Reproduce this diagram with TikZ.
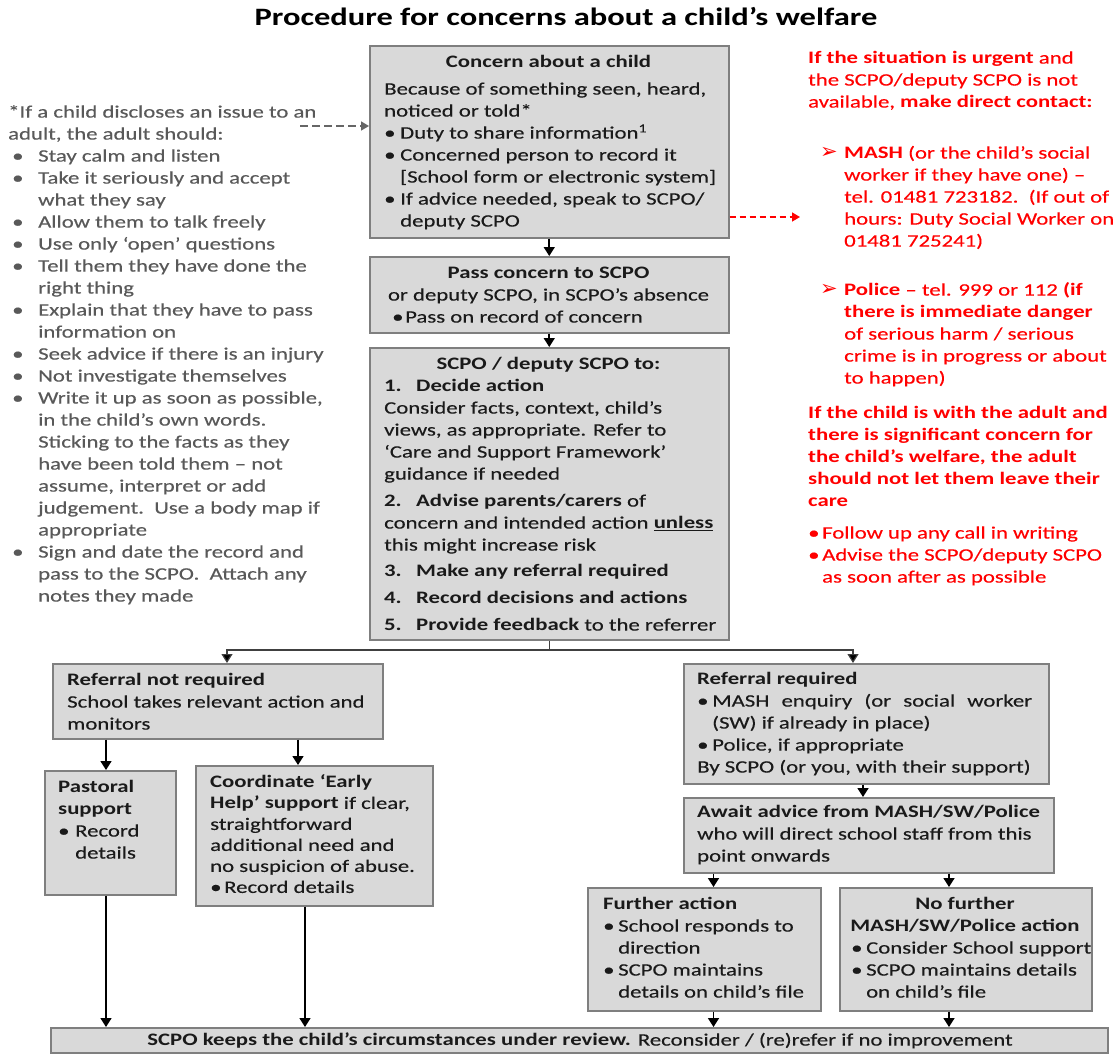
\documentclass[tikz,border=0pt]{standalone}
\usepackage{fontspec}
\setmainfont{Carlito}[FakeStretch=1.3, UprightFeatures={FakeBold=0.3}]
\newfontfamily\dejavu{DejaVu Sans}
\usetikzlibrary{arrows.meta}
\definecolor{boxfill}{HTML}{D9D9D9}
\definecolor{boxline}{HTML}{7F7F7F}
\definecolor{greytext}{HTML}{595959}
\definecolor{redtext}{HTML}{FF0000}
\definecolor{darktext}{HTML}{1A1A1A}
\newcommand\bodyfont{\fontsize{17.5pt}{22pt}\selectfont}
\newcommand\bul[1]{\makebox[#1][l]{\textbullet}}
\newcommand\nlab[1]{\makebox[32pt][l]{#1}}
\newcommand\lbul{\hspace*{4pt}\makebox[26pt][l]{\textbullet}}
\newcommand\lcon{\hspace*{30pt}}
\newcommand\arrowbul{\makebox[24pt][l]{\dejavu\fontsize{21pt}{22pt}\selectfont ➢}}
\begin{document}
\begin{tikzpicture}[x=1pt,y=-1pt,
  box/.style={draw=boxline, fill=boxfill, line width=1.5pt, anchor=north west, inner sep=0pt},
  txt/.style={anchor=north west, inner sep=0pt, align=left, font=\bodyfont, text=darktext},
  ctxt/.style={anchor=north, inner sep=0pt, align=center, font=\bodyfont, text=darktext},
  arr/.style={draw=black, line width=1.6pt, -{Triangle[length=9pt,width=11pt]}},
  brarr/.style={draw=black!75, line width=1.2pt, -{Triangle[length=9pt,width=11pt,fill=black]}},
  gdash/.style={draw=black!60, line width=1.6pt, dash pattern=on 8pt off 4pt, -{Triangle[length=8pt,width=9pt]}},
  rdash/.style={draw=redtext, line width=1.6pt, dash pattern=on 6pt off 4pt, -{Triangle[length=8pt,width=9pt]}},
]
\useasboundingbox (0,0) rectangle (1114,1055);
\fill[white] (0,0) rectangle (1114,1055);

% title
\node[anchor=north, inner sep=0pt, font=\fontsize{25pt}{28pt}\selectfont\bfseries, text=black] (title) at (566,6)
  {\strut Procedure for concerns about a child’s welfare};

% boxes
\node[box, minimum width=359pt, minimum height=192pt] (A) at (369,45) {};
\node[box, minimum width=359pt, minimum height=76pt] (B) at (369,256) {};
\node[box, minimum width=359pt, minimum height=292pt] (C) at (369,347) {};
\node[box, minimum width=330pt, minimum height=75pt] (RNR) at (52,663) {};
\node[box, minimum width=131pt, minimum height=124pt] (Past) at (44,770) {};
\node[box, minimum width=237pt, minimum height=140pt] (Coord) at (195,765) {};
\node[box, minimum width=365pt, minimum height=120pt] (RR) at (683,663) {};
\node[box, minimum width=370pt, minimum height=75pt] (Await) at (683,797) {};
\node[box, minimum width=233pt, minimum height=123pt] (Further) at (587,887) {};
\node[box, minimum width=252pt, minimum height=123pt] (NoFur) at (839,887) {};
\node[box, minimum width=1057pt, minimum height=25pt] (Bottom) at (50,1027) {};

% left grey text
\node[txt, text=greytext] (advice) at (8,102) {\strut *If a child discloses an issue to an\\
adult, the adult should:\\
\lbul Stay calm and listen\\
\lbul Take it seriously and accept\\
\lcon what they say\\
\lbul Allow them to talk freely\\
\lbul Use only ‘open’ questions\\
\lbul Tell them they have done the\\
\lcon right thing\\
\lbul Explain that they have to pass\\
\lcon information on\\
\lbul Seek advice if there is an injury\\
\lbul Not investigate themselves\\
\lbul Write it up as soon as possible,\\
\lcon in the child’s own words.\\
\lcon Sticking to the facts as they\\
\lcon have been told them – not\\
\lcon assume, interpret or add\\
\lcon judgement.\ \ Use a body map if\\
\lcon appropriate\\
\lbul Sign and date the record and\\
\lcon pass to the SCPO.\ \ Attach any\\
\lcon notes they made};

% red text
\node[txt, text=redtext] (urgent) at (808,48) {\strut\textbf{If the situation is urgent} and\\
the SCPO/deputy SCPO is not\\
available, \textbf{make direct contact:}};
\node[txt, text=redtext] (mash) at (820,143) {\strut\arrowbul\textbf{MASH} (or the child’s social\\
\hspace*{24pt}worker if they have one) –\\
\hspace*{24pt}tel. 01481 723182.\ \ (If out of\\
\hspace*{24pt}hours: Duty Social Worker on\\
\hspace*{24pt}01481 725241)};
\node[txt, text=redtext] (police) at (820,280) {\strut\arrowbul\textbf{Police} – tel. 999 or 112 \textbf{(if}\\
\hspace*{24pt}\textbf{there is immediate danger}\\
\hspace*{24pt}of serious harm / serious\\
\hspace*{24pt}crime is in progress or about\\
\hspace*{24pt}to happen)};
\node[txt, text=redtext, font=\bodyfont\bfseries] (withadult) at (808,403) {\strut If the child is with the adult and\\
there is significant concern for\\
the child’s welfare, the adult\\
should not let them leave their\\
care};
\node[txt, text=redtext] (followup) at (808,523) {\strut\bul{14pt}Follow up any call in writing\\
\bul{14pt}Advise the SCPO/deputy SCPO\\
\hspace*{14pt}as soon after as possible};

% box A
\node[ctxt, font=\bodyfont\bfseries] (Ahead) at (548.5,52) {\strut Concern about a child};
\node[txt] (Atext) at (384,79) {\strut Because of something seen, heard,\\
noticed or told*\\
\bul{16pt}Duty to share information\textsuperscript{1}\\
\bul{16pt}Concerned person to record it\\
\hspace*{16pt}[School form or electronic system]\\
\bul{16pt}If advice needed, speak to SCPO/\\
\hspace*{16pt}deputy SCPO};

% box B
\node[ctxt] (Bhead) at (548.5,263) {\strut\textbf{Pass concern to SCPO}\\
or deputy SCPO, in SCPO’s absence};
\node[txt] (Btext) at (392,307) {\strut\bul{13pt}Pass on record of concern};

% box C
\node[ctxt, font=\bodyfont\bfseries] (Chead) at (548.5,354) {\strut SCPO / deputy SCPO to:};
\node[txt] (Ctext) at (384,376) {\strut\textbf{\nlab{1.}Decide action}\\
Consider facts, context, child’s\\
views, as appropriate. Refer to\\
‘Care and Support Framework’\\
guidance if needed\\[5pt]
\textbf{\nlab{2.}Advise parents/carers} of\\
concern and intended action \underline{\textbf{unless}}\\
this might increase risk\\[4pt]
\textbf{\nlab{3.}Make any referral required}\\[5pt]
\textbf{\nlab{4.}Record decisions and actions}\\[5pt]
\textbf{\nlab{5.}Provide feedback} to the referrer};

% referral not required
\node[txt] (RNRtext) at (67,670) {\strut\textbf{Referral not required}\\
School takes relevant action and\\
monitors};
\node[txt] (Pasttext) at (58,777) {\strut\textbf{Pastoral}\\
\textbf{support}\\
\bul{17pt}Record\\
\hspace*{17pt}details};
\node[txt, font=\fontsize{17.5pt}{21pt}\selectfont] (Coordtext) at (210,773) {\strut\textbf{Coordinate ‘Early}\\
\textbf{Help’ support} if clear,\\
straightforward\\
additional need and\\
no suspicion of abuse.\\
\bul{14pt}Record details};

% referral required
\node[txt] (RRtext) at (697,669) {\strut\textbf{Referral required}\\
\bul{15pt}\makebox[320pt][s]{MASH enquiry (or social worker}\\
\hspace*{15pt}(SW) if already in place)\\
\bul{15pt}Police, if appropriate\\
By SCPO (or you, with their support)};
\node[txt] (Awaittext) at (697,802) {\strut\textbf{Await advice from MASH/SW/Police}\\
who will direct school staff from this\\
point onwards};
\node[txt] (Furthertext) at (603,894) {\strut\textbf{Further action}\\
\bul{15pt}School responds to\\
\hspace*{15pt}direction\\
\bul{15pt}SCPO maintains\\
\hspace*{15pt}details on child’s file};
\node[ctxt, font=\bodyfont\bfseries] (NoFurhead) at (965,894) {\strut No further\\
MASH/SW/Police action};
\node[txt] (NoFurtext) at (851,938) {\strut\bul{15pt}Consider School support\\
\bul{15pt}SCPO maintains details\\
\hspace*{15pt}on child’s file};

% bottom
\node[ctxt] (Bottomtext) at (580,1030) {\strut\textbf{SCPO keeps the child’s circumstances under review.} Reconsider / (re)refer if no improvement};

% connector helper coordinates
\coordinate (split) at (548.5,650);
\coordinate (splitL) at (227,650);
\coordinate (splitR) at (853,650);
\coordinate (xPast) at (106,0);
\coordinate (xCoord1) at (298,0);
\coordinate (xCoord2) at (305,0);
\coordinate (xRR) at (863,0);
\coordinate (xFur) at (713.5,0);
\coordinate (xNoFur) at (949,0);
\coordinate (dstart) at (300,126);
\coordinate (rend) at (800,217);

% connectors
\draw[arr] (A.south) -- (B.north);
\draw[arr] (B.south) -- (C.north);
\draw[brarr] (C.south) |- (splitL) -- (RNR.north -| splitL);
\draw[brarr] (split) -| (RR.north -| splitR);
\draw[arr] (RNR.south -| xPast) -- (Past.north -| xPast);
\draw[arr] (RNR.south -| xCoord1) -- (Coord.north -| xCoord1);
\draw[arr] (Past.south -| xPast) -- (Bottom.north -| xPast);
\draw[arr] (Coord.south -| xCoord2) -- (Bottom.north -| xCoord2);
\draw[arr] (RR.south -| xRR) -- (Await.north -| xRR);
\draw[arr] (Await.south -| xFur) -- (Further.north -| xFur);
\draw[arr] (Await.south -| xNoFur) -- (NoFur.north -| xNoFur);
\draw[arr] (Further.south -| xFur) -- (Bottom.north -| xFur);
\draw[arr] (NoFur.south -| xNoFur) -- (Bottom.north -| xNoFur);
\draw[gdash] (dstart) -- (A.west |- dstart);
\draw[rdash] (A.east |- rend) -- (rend);
\end{tikzpicture}
\end{document}
